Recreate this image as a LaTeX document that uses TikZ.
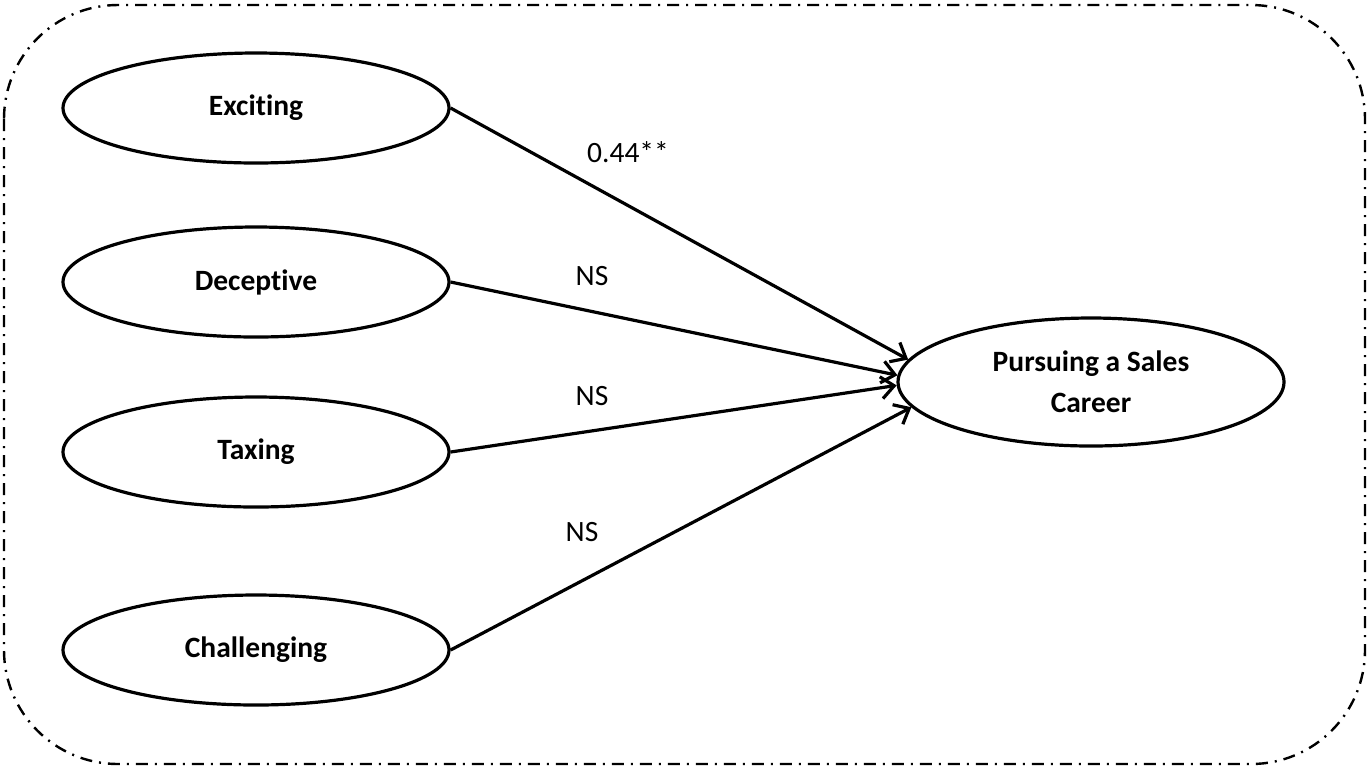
\documentclass[tikz,border=0pt]{standalone}
\usepackage{fontspec}
\setmainfont{Carlito}[Ligatures={NoCommon,NoRare,NoContextual}]
\usetikzlibrary{shapes.geometric,arrows.meta}

\tikzset{
  latent/.style={draw, ellipse, line width=1.6pt, minimum width=193pt, minimum height=55pt,
    align=center, font=\fontsize{14.75}{20.5}\selectfont\bfseries, inner sep=0pt},
  effect/.style={line width=1.6pt, -{Straight Barb[length=6.5pt,width=11pt,line width=1.6pt]}},
  coef/.style={font=\fontsize{14.75}{20.5}\selectfont, inner sep=0pt}
}

\begin{document}
\begin{tikzpicture}[x=0.5pt,y=-0.5pt]
\useasboundingbox (0,0) rectangle (1369,768);

% frame
\draw[line width=1.2pt, dash pattern=on 6pt off 3.5pt on 1pt off 3.5pt, rounded corners=57pt]
  (4,5) rectangle (1365,764);

% constructs
\node[latent] (excit) at (256,108) {Exciting};
\node[latent] (decep) at (256,282) {Decep\kern0pt tive};
\node[latent] (tax) at (256,452) {Taxing};
\node[latent] (chal) at (256,650) {Challenging};
\node[latent, minimum height=64pt] (pursue) at (1091,382) {Pursuing a Sales\\Career};

% paths
\draw[effect] (excit.east) -- (pursue.173);
\draw[effect] (decep.east) -- (pursue.178.5);
\draw[effect] (tax.east) -- (pursue.181.5);
\draw[effect] (chal.east) -- (pursue.188.7);

% coefficients
\node[coef] (c1) at (628,152) {0.44**};
\node[coef] (c2) at (592,276) {NS};
\node[coef] (c3) at (592,396) {NS};
\node[coef] (c4) at (582,532) {NS};

\end{tikzpicture}
\end{document}
